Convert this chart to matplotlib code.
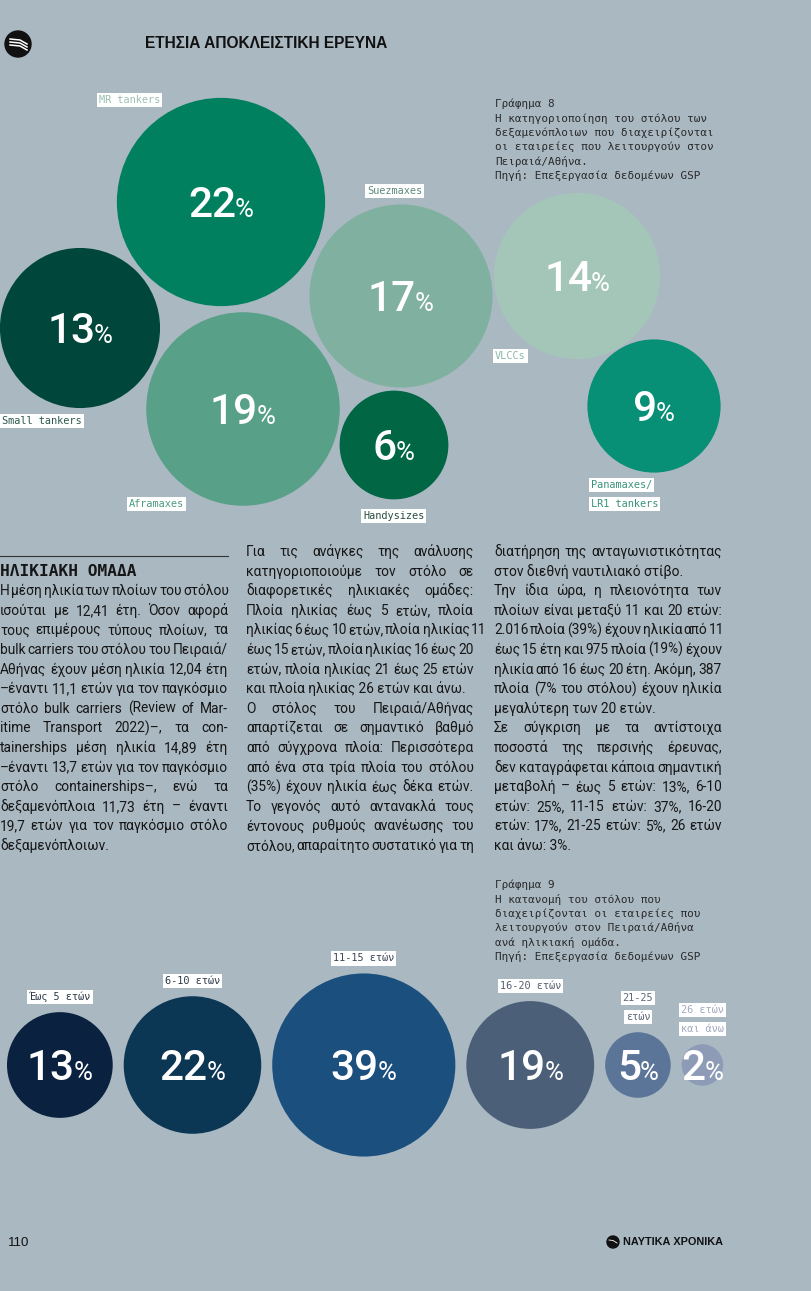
import matplotlib
import numpy as np

matplotlib.use("Agg")
import matplotlib.pyplot as plt
from matplotlib.patches import Circle

# ---------------- data ----------------
# Chart 8: tanker fleet managed from Piraeus/Athens, share by type (%)
tanker_types = ["Small tankers", "MR tankers", "Aframaxes", "Suezmaxes",
                "Handysizes", "VLCCs", "Panamaxes/\nLR1 tankers"]
tanker_share = [13, 22, 19, 17, 6, 14, 9]

# Chart 9: fleet by age group (%)
age_groups = ["Έως 5 ετών", "6-10 ετών", "11-15 ετών", "16-20 ετών",
              "21-25\nετών", "26 ετών\nκαι άνω"]
age_share = [13, 22, 39, 19, 5, 2]

# ---------------- layout / style ----------------
W, H = 812, 1291
BG = "#aab8c2"

# packed-bubble layout of chart 8 (page px) and where each label box sits
tanker_centers = [(80, 328), (221, 202), (243, 409), (401, 296),
                  (394, 445), (577, 276), (654, 406)]
tanker_label_pos = [(2, 421), (99, 100), (129, 504), (367, 191),
                    (363, 516), (495, 356), (591, 485)]
tanker_colors = ["#00463a", "#00805e", "#58a088", "#80b1a0",
                 "#006644", "#a4c6b9", "#079076"]
tanker_label_colors = ["#2c5a4e", "#9dbfb1", "#4e9a80", "#5f8a7a",
                       "#2a4d41", "#8db8a8", "#3a937c"]
TOP_SCALE = 22.2  # px radius per sqrt(%)

age_colors = ["#0a2240", "#0b3654", "#1a4f7e", "#4b5f78", "#5b7599", "#8e9bb6"]
age_label_colors = ["#2e3a4a", "#2e3b4a", "#3b4656", "#555f6c", "#5d6878", "#a0abbf"]
BOTTOM_SCALE = 14.66
BOTTOM_Y = 1065
BOTTOM_X0 = 7
BOTTOM_GAP = 11

MONO = "DejaVu Sans Mono"
SANS = "Liberation Sans"
BODY_FONT = "Roboto"
NUM_FONT = "Roboto"
TEXT = "#161616"

caption8 = ["Γράφημα 8",
            "Η κατηγοριοποίηση του στόλου των",
            "δεξαμενόπλοιων που διαχειρίζονται",
            "οι εταιρείες που λειτουργούν στον",
            "Πειραιά/Αθήνα.",
            "Πηγή: Επεξεργασία δεδομένων GSP"]
caption9 = ["Γράφημα 9",
            "Η κατανομή του στόλου που",
            "διαχειρίζονται οι εταιρείες που",
            "λειτουργούν στον Πειραιά/Αθήνα",
            "ανά ηλικιακή ομάδα.",
            "Πηγή: Επεξεργασία δεδομένων GSP"]

col1 = ["Η μέση ηλικία των πλοίων του στόλου",
        "ισούται με 12,41 έτη. Όσον αφορά",
        "τους επιμέρους τύπους πλοίων, τα",
        "bulk carriers του στόλου του Πειραιά/",
        "Αθήνας έχουν μέση ηλικία 12,04 έτη",
        "–έναντι 11,1 ετών για τον παγκόσμιο",
        "στόλο bulk carriers (Review of Mar-",
        "itime Transport 2022)–, τα con-",
        "tainerships μέση ηλικία 14,89 έτη",
        "–έναντι 13,7 ετών για τον παγκόσμιο",
        "στόλο containerships–, ενώ τα",
        "δεξαμενόπλοια 11,73 έτη – έναντι",
        "19,7 ετών για τον παγκόσμιο στόλο",
        "δεξαμενόπλοιων."]
col1_ends = {13}
col2 = ["Για τις ανάγκες της ανάλυσης",
        "κατηγοριοποιούμε τον στόλο σε",
        "διαφορετικές ηλικιακές ομάδες:",
        "Πλοία ηλικίας έως 5 ετών, πλοία",
        "ηλικίας 6 έως 10 ετών, πλοία ηλικίας 11",
        "έως 15 ετών, πλοία ηλικίας 16 έως 20",
        "ετών, πλοία ηλικίας 21 έως 25 ετών",
        "και πλοία ηλικίας 26 ετών και άνω.",
        "Ο στόλος του Πειραιά/Αθήνας",
        "απαρτίζεται σε σημαντικό βαθμό",
        "από σύγχρονα πλοία: Περισσότερα",
        "από ένα στα τρία πλοία του στόλου",
        "(35%) έχουν ηλικία έως δέκα ετών.",
        "Το γεγονός αυτό αντανακλά τους",
        "έντονους ρυθμούς ανανέωσης του",
        "στόλου, απαραίτητο συστατικό για τη"]
col2_ends = {7}
col3 = ["διατήρηση της ανταγωνιστικότητας",
        "στον διεθνή ναυτιλιακό στίβο.",
        "Την ίδια ώρα, η πλειονότητα των",
        "πλοίων είναι μεταξύ 11 και 20 ετών:",
        "2.016 πλοία (39%) έχουν ηλικία από 11",
        "έως 15 έτη και 975 πλοία (19%) έχουν",
        "ηλικία από 16 έως 20 έτη. Ακόμη, 387",
        "πλοία (7% του στόλου) έχουν ηλικία",
        "μεγαλύτερη των 20 ετών.",
        "Σε σύγκριση με τα αντίστοιχα",
        "ποσοστά της περσινής έρευνας,",
        "δεν καταγράφεται κάποια σημαντική",
        "μεταβολή – έως 5 ετών: 13%, 6-10",
        "ετών: 25%, 11-15 ετών: 37%, 16-20",
        "ετών: 17%, 21-25 ετών: 5%, 26 ετών",
        "και άνω: 3%."]
col3_ends = {1, 8, 15}

ROW0, ROW = 551, 19.6
COL_W = 228
BODY_SIZE = 9.9
MIN_GAP = 1.6


def main():
    fig = plt.figure(figsize=(W / 100, H / 100), dpi=100)
    fig.patch.set_facecolor(BG)
    ax = fig.add_axes([0, 0, 1, 1])
    ax.set_xlim(0, W)
    ax.set_ylim(H, 0)
    ax.axis("off")
    renderer = fig.canvas.get_renderer()

    def width(t):
        return t.get_window_extent(renderer).width

    def pct_label(cx, cy, value):
        t1 = ax.text(cx, cy + 15, f"{value}", fontsize=30.5, family=NUM_FONT,
                     weight="medium", color="white", ha="left", va="baseline")
        t2 = ax.text(cx, cy + 15, "%", fontsize=18.5, family=NUM_FONT,
                     color="white", ha="left", va="baseline")
        w1, w2 = width(t1), width(t2)
        left = cx - (w1 + w2 - 1) / 2
        t1.set_x(left)
        t2.set_x(left + w1 - 1)

    def tag(x, y, s, color, ha="left"):
        ax.text(x, y, s, fontsize=7.4, family=MONO, color=color, ha=ha, va="center",
                bbox=dict(boxstyle="square,pad=0.2", fc="white", ec="none"))

    # ---- header ----
    ax.add_patch(Circle((18, 44), 13, color="#111111"))
    for k in range(3):
        ax.plot([10, 20, 27], [39 + 3 * k, 40 + 3 * k, 44 + 3 * k], color="white", lw=1.1)
    ax.text(145, 44, "ΕΤΗΣΙΑ ΑΠΟΚΛΕΙΣΤΙΚΗ ΕΡΕΥΝΑ", fontsize=11.2, family=SANS,
            weight="bold", color="#111111", ha="left", va="center")

    # ---- chart 8: bubbles ----
    for name, v, (cx, cy), (lx, ly), c, lc in zip(tanker_types, tanker_share, tanker_centers,
                                                  tanker_label_pos, tanker_colors,
                                                  tanker_label_colors):
        r = TOP_SCALE * np.sqrt(v)
        ax.add_patch(Circle((cx, cy), r, color=c, lw=0))
        pct_label(cx, cy, v)
        for j, line in enumerate(name.split("\n")):
            tag(lx, ly + j * 19, line, lc)

    for i, line in enumerate(caption8):
        ax.text(495, 104 + i * 14.3, line, fontsize=7.9, family=MONO, color="#2a2a2a",
                ha="left", va="center")

    # ---- body text (justified columns) ----
    body = dict(fontsize=BODY_SIZE, family=BODY_FONT, color=TEXT, ha="left", va="baseline")

    def draw_column(lines, ends, x0, first_row):
        for i, line in enumerate(lines):
            y = ROW0 + (first_row + i) * ROW + 5
            if i in ends:
                ax.text(x0, y, line, **body)
                continue
            words = line.split(" ")
            ts = [ax.text(x0, y, w, **body) for w in words]
            ws = [width(t) for t in ts]
            gap = max(MIN_GAP, (COL_W - sum(ws)) / (len(words) - 1))
            x = x0
            for t, w in zip(ts, ws):
                t.set_x(x)
                x += w + gap

    ax.plot([0, COL_W], [556, 556], color="#333333", lw=0.8)
    ax.text(0, ROW0 + ROW + 5.5, "ΗΛΙΚΙΑΚΗ ΟΜΑΔΑ", fontsize=11.6, family=MONO, weight="bold",
            color=TEXT, ha="left", va="baseline")
    draw_column(col1, col1_ends, 0, 2)
    draw_column(col2, col2_ends, 246, 0)
    draw_column(col3, col3_ends, 494, 0)

    # ---- chart 9: bubbles in a row ----
    for i, line in enumerate(caption9):
        ax.text(495, 885 + i * 14.3, line, fontsize=7.9, family=MONO, color="#2a2a2a",
                ha="left", va="center")

    x = BOTTOM_X0
    for name, v, c, lc in zip(age_groups, age_share, age_colors, age_label_colors):
        r = BOTTOM_SCALE * np.sqrt(v)
        cx = x + r
        ax.add_patch(Circle((cx, BOTTOM_Y), r, color=c, lw=0))
        pct_label(cx, BOTTOM_Y, v)
        lines = name.split("\n")
        for j, line in enumerate(reversed(lines)):
            tag(cx, BOTTOM_Y - r - 15 - j * 19, line, lc, ha="center")
        x = cx + r + BOTTOM_GAP

    # ---- footer ----
    ax.text(8, 1243, "110", fontsize=9.5, family=SANS, color="#111111", ha="left", va="center")
    ax.add_patch(Circle((613, 1242), 6, color="#111111"))
    ax.plot([609, 613, 617], [1240, 1240.5, 1243], color="white", lw=0.6)
    ax.text(623, 1242, "ΝΑΥΤΙΚΑ ΧΡΟΝΙΚΑ", fontsize=7.8, family=SANS, weight="bold",
            color="#111111", ha="left", va="center")

    fig.savefig("out.png", dpi=100, facecolor=fig.get_facecolor())
    plt.close(fig)


if __name__ == "__main__":
    main()
